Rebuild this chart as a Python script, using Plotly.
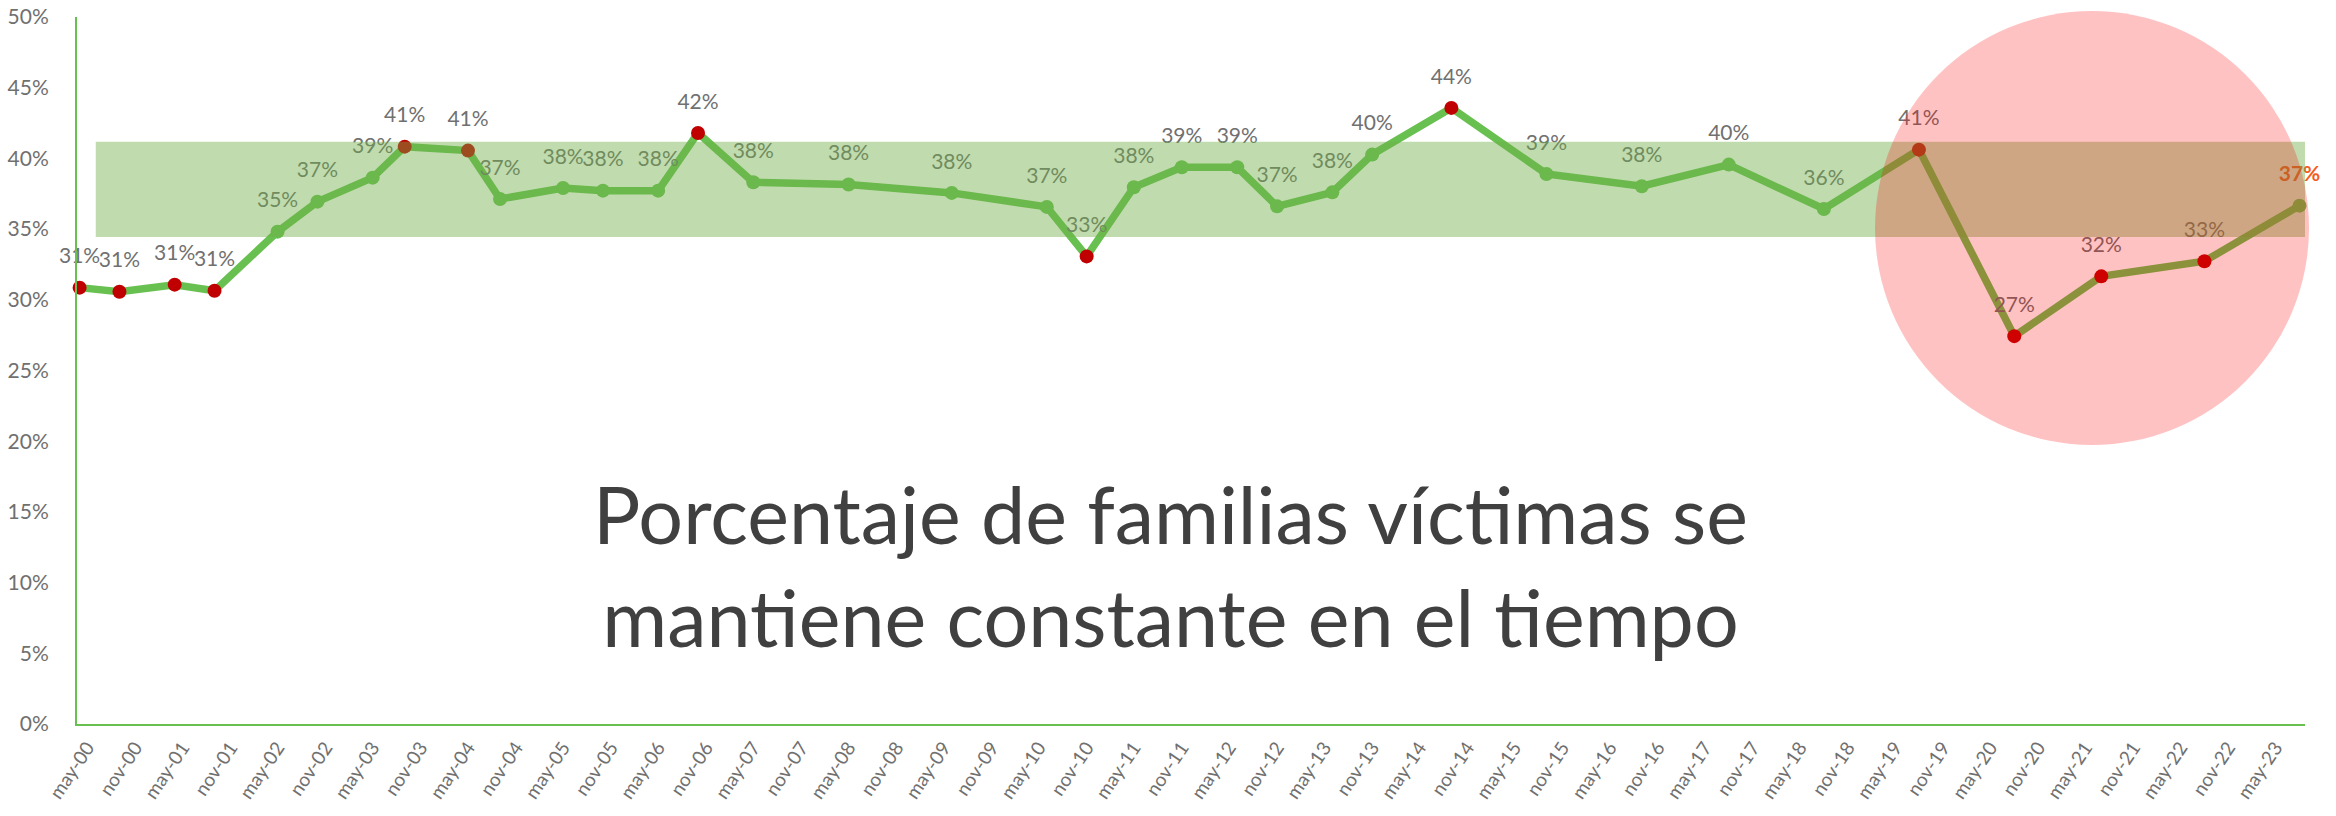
import plotly.graph_objects as go

# ---- data -------------------------------------------------------------
dates = [
    "2000-04-01", "2000-09-01", "2001-04-01", "2001-09-01", "2002-05-01",
    "2002-10-01", "2003-05-01", "2003-09-01", "2004-05-01", "2004-09-01",
    "2005-05-01", "2005-10-01", "2006-05-01", "2006-10-01", "2007-05-01",
    "2008-05-01", "2009-06-01", "2010-06-01", "2010-11-01", "2011-05-01",
    "2011-11-01", "2012-06-01", "2012-11-01", "2013-06-01", "2013-11-01",
    "2014-09-01", "2015-09-01", "2016-09-01", "2017-08-01", "2018-08-01",
    "2019-08-01", "2020-08-01", "2021-07-01", "2022-08-01", "2023-08-01",
]
values = [
    0.3086, 0.3057, 0.3107, 0.3064, 0.3482,
    0.3694, 0.3864, 0.4083, 0.4055, 0.3713,
    0.3791, 0.3772, 0.3772, 0.4180, 0.3831,
    0.3815, 0.3756, 0.3657, 0.3307, 0.3796,
    0.3937, 0.3937, 0.3661, 0.3760, 0.4027,
    0.4357, 0.3890, 0.3803, 0.3956, 0.3642,
    0.4062, 0.2743, 0.3166, 0.3273, 0.3666,
]
highlight = [  # 1 = red marker
    1, 1, 1, 1, 0,
    0, 0, 1, 1, 0,
    0, 0, 0, 1, 0,
    0, 0, 0, 1, 0,
    0, 0, 0, 0, 0,
    1, 0, 0, 0, 0,
    1, 1, 1, 1, 0,
]
tick_labels = [
    "may-00", "nov-00", "may-01", "nov-01", "may-02", "nov-02", "may-03", "nov-03",
    "may-04", "nov-04", "may-05", "nov-05", "may-06", "nov-06", "may-07", "nov-07",
    "may-08", "nov-08", "may-09", "nov-09", "may-10", "nov-10", "may-11", "nov-11",
    "may-12", "nov-12", "may-13", "nov-13", "may-14", "nov-14", "may-15", "nov-15",
    "may-16", "nov-16", "may-17", "nov-17", "may-18", "nov-18", "may-19", "nov-19",
    "may-20", "nov-20", "may-21", "nov-21", "may-22", "nov-22", "may-23",
]
band_low, band_high = 0.3444, 0.4117
band_start = "2000-06-02"
x_range = ["2000-03-22", "2023-08-22"]
title_text = "Porcentaje de familias víctimas se<br>mantiene constante en el tiempo"

# ---- styling -----------------------------------------------------------
LINE = "rgb(104,192,80)"
RED = "#C00000"
GRAY = "#707070"
ORANGE = "rgb(245,92,28)"

month_num = {"may": "05", "nov": "11"}
tick_vals = ["20" + t[4:] + "-" + month_num[t[:3]] + "-01" for t in tick_labels]

marker_colors = [RED if h else LINE for h in highlight]
labels = [f"{v*100:.0f}%" for v in values]
labels[-1] = "<b>" + labels[-1] + "</b>"
label_colors = [GRAY] * (len(values) - 1) + [ORANGE]

fig = go.Figure()
fig.add_trace(go.Scatter(
    x=dates, y=values, mode="lines+markers",
    line=dict(color=LINE, width=7.5),
    marker=dict(size=14, color=marker_colors, line=dict(width=0)),
    hoverinfo="skip", showlegend=False, cliponaxis=False,
))
# data labels (invisible large markers give the label offset)
fig.add_trace(go.Scatter(
    x=dates, y=values, mode="markers+text",
    marker=dict(size=29, opacity=0),
    text=labels, textposition="top center",
    textfont=dict(family="Lato", size=21, color=label_colors),
    hoverinfo="skip", showlegend=False, cliponaxis=False,
))

fig.add_shape(type="rect", xref="x", yref="y",
              x0=band_start, x1=x_range[1], y0=band_low, y1=band_high,
              fillcolor="rgba(112,173,71,0.44)", line=dict(width=0), layer="above")
fig.add_shape(type="circle", xref="paper", yref="paper",
              x0=0.807, x1=1.0018, y0=0.3946, y1=1.0085,
              fillcolor="rgba(255,0,0,0.24)", line=dict(width=0), layer="above")

fig.add_annotation(text=title_text, xref="paper", yref="paper",
                   x=0.491, y=0.225, xanchor="center", yanchor="middle",
                   showarrow=False,
                   font=dict(family="Lato", size=79, color="#404040"))

fig.update_layout(
    width=2336, height=816,
    margin=dict(l=77, r=31, t=17, b=92, autoexpand=False),
    paper_bgcolor="white", plot_bgcolor="white",
    font=dict(family="Lato", color=GRAY),
)
fig.update_xaxes(
    type="date", range=x_range, automargin=False,
    tickmode="array", tickvals=tick_vals, ticktext=tick_labels,
    tickangle=-56, tickfont=dict(family="Lato", size=19, color=GRAY),
    showline=True, linecolor=LINE, linewidth=2,
    showgrid=False, zeroline=False, ticks="", ticklabelstandoff=3,
)
fig.update_yaxes(
    range=[0, 0.5], dtick=0.05, tickformat=".0%", automargin=False,
    tickfont=dict(family="Lato", size=21, color=GRAY),
    showline=True, linecolor=LINE, linewidth=2,
    showgrid=False, zeroline=False, ticks="", ticklabelstandoff=22,
)

fig.write_html(
    "out.html",
    config={"displayModeBar": False},
    post_script="document.body.style.margin='0px';document.body.style.overflow='hidden';",
)
